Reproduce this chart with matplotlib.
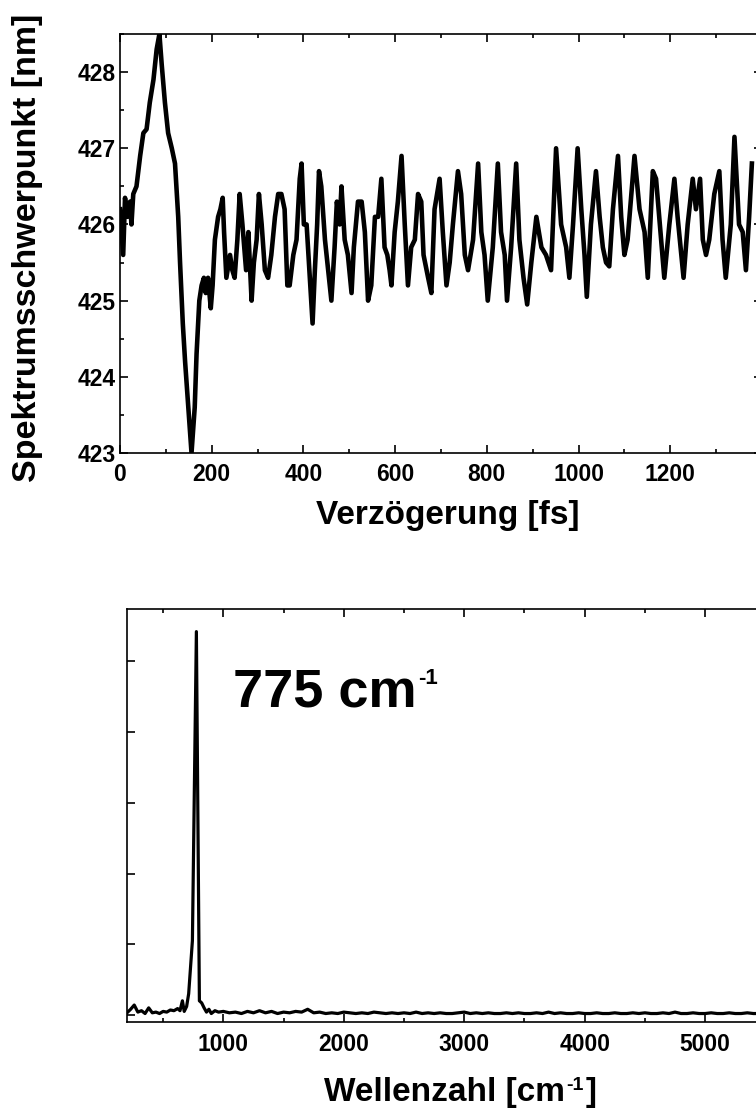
import numpy as np
import matplotlib
matplotlib.use("Agg")
import matplotlib.pyplot as plt
from matplotlib.ticker import MultipleLocator, NullFormatter

# --- top panel: spectral centroid vs. delay ---
delay_fs = [
    0, 7, 11, 16, 22, 25, 29, 36, 44, 51, 58, 65, 73, 80, 86, 91, 98, 105,
    113, 120, 127, 131, 137, 142, 149, 156, 163, 167, 173, 178, 183, 187,
    192, 198, 202, 207, 214, 219, 224, 227, 232, 240, 245, 250, 256, 261,
    267, 275, 280, 287, 292, 298, 303, 309, 316, 323, 330, 338, 345, 352,
    359, 365, 370, 378, 385, 392, 396, 401, 407, 414, 420, 425, 430, 434,
    439, 447, 454, 461, 468, 473, 479, 483, 490, 497, 505, 510, 519, 527,
    534, 541, 548, 556, 563, 570, 577, 583, 588, 592, 599, 606, 614, 621,
    628, 635, 643, 650, 657, 662, 672, 679, 686, 697, 704, 712, 719, 726,
    737, 744, 752, 759, 770, 781, 788, 795, 802, 813, 824, 831, 839, 844,
    853, 864, 871, 880, 888, 897, 908, 919, 929, 940, 951, 962, 973, 980,
    988, 998, 1006, 1013, 1018, 1027, 1038, 1046, 1053, 1060, 1067, 1075,
    1086, 1093, 1100, 1107, 1122, 1133, 1144, 1151, 1162, 1169, 1180, 1187,
    1198, 1209, 1216, 1229, 1238, 1249, 1256, 1265, 1271, 1278, 1285, 1296,
    1307, 1314, 1321, 1332, 1340, 1350, 1358, 1365, 1372, 1378,
]
centroid_nm = [
    426.2, 425.6, 426.35, 426.1, 426.3, 426.0, 426.4, 426.5, 426.9, 427.2,
    427.25, 427.6, 427.9, 428.3, 428.5, 428.1, 427.6, 427.2, 427.0, 426.8,
    426.1, 425.5, 424.7, 424.2, 423.6, 423.0, 423.6, 424.3, 425.0, 425.2,
    425.3, 425.1, 425.3, 424.9, 425.2, 425.8, 426.1, 426.2, 426.35, 425.9,
    425.3, 425.6, 425.4, 425.3, 425.8, 426.4, 426.0, 425.4, 425.9, 425.0,
    425.5, 425.8, 426.4, 426.0, 425.4, 425.3, 425.6, 426.1, 426.4, 426.4,
    426.2, 425.2, 425.2, 425.6, 425.8, 426.6, 426.8, 426.0, 426.0, 425.3,
    424.7, 425.4, 426.0, 426.7, 426.5, 425.8, 425.4, 425.0, 425.7, 426.3,
    426.0, 426.5, 425.8, 425.6, 425.1, 425.7, 426.3, 426.3, 425.9, 425.0,
    425.2, 426.1, 426.1, 426.6, 425.7, 425.6, 425.4, 425.2, 425.9, 426.3,
    426.9, 426.0, 425.2, 425.7, 425.8, 426.4, 426.3, 425.6, 425.3, 425.1,
    426.2, 426.6, 425.9, 425.2, 425.5, 426.0, 426.7, 426.4, 425.6, 425.4,
    425.8, 426.8, 425.9, 425.6, 425.0, 425.7, 426.8, 425.9, 425.6, 425.0,
    425.7, 426.8, 425.8, 425.3, 424.95, 425.5, 426.1, 425.7, 425.6, 425.4,
    427.0, 426.0, 425.7, 425.3, 426.0, 427.0, 426.2, 425.6, 425.05, 426.0,
    426.7, 426.1, 425.7, 425.5, 425.45, 426.2, 426.9, 426.1, 425.6, 425.8,
    426.9, 426.2, 425.9, 425.3, 426.7, 426.6, 425.8, 425.3, 426.0, 426.6,
    426.1, 425.3, 426.0, 426.6, 426.2, 426.6, 425.8, 425.6, 425.8, 426.4,
    426.7, 425.8, 425.3, 426.0, 427.15, 426.0, 425.9, 425.4, 426.1, 426.8,
]
delay_ticks = [0, 200, 400, 600, 800, 1000, 1200]

# --- bottom panel: FFT amplitude (arb. units, one unit per y tick) ---
wavenumber = [
    200, 230, 260, 290, 320, 350, 380, 410, 440, 470, 500, 530, 560, 590,
    620, 640, 660, 675, 695, 712, 743, 776, 801, 820, 840, 860, 880, 900,
    930, 960, 1000, 1050, 1100, 1150, 1200, 1250, 1300, 1350, 1400, 1450,
    1500, 1550, 1600, 1650, 1700, 1750, 1800, 1850, 1900, 1950, 2000, 2050,
    2100, 2150, 2200, 2250, 2300, 2350, 2400, 2450, 2500, 2550, 2600, 2650,
    2700, 2750, 2800, 2850, 2900, 2950, 3000, 3050, 3100, 3150, 3200, 3250,
    3300, 3350, 3400, 3450, 3500, 3550, 3600, 3650, 3700, 3750, 3800, 3850,
    3900, 3950, 4000, 4050, 4100, 4150, 4200, 4250, 4300, 4350, 4400, 4450,
    4500, 4550, 4600, 4650, 4700, 4750, 4800, 4850, 4900, 4950, 5000, 5050,
    5100, 5150, 5200, 5250, 5300, 5350, 5400, 5450, 5500, 5550, 5600, 5650,
    5700, 5750, 5800, 5850, 5900, 5950, 6000,
]
amplitude = [
    0.03, 0.08, 0.14, 0.04, 0.06, 0.02, 0.10, 0.03, 0.04, 0.02, 0.05, 0.04,
    0.07, 0.06, 0.09, 0.06, 0.20, 0.05, 0.12, 0.30, 1.05, 5.42, 0.20, 0.17,
    0.10, 0.04, 0.08, 0.02, 0.06, 0.04, 0.05, 0.03, 0.04, 0.02, 0.05, 0.03,
    0.06, 0.03, 0.05, 0.02, 0.04, 0.03, 0.05, 0.04, 0.08, 0.03, 0.04, 0.02,
    0.03, 0.02, 0.04, 0.03, 0.02, 0.03, 0.02, 0.04, 0.03, 0.02, 0.03, 0.02,
    0.03, 0.02, 0.04, 0.02, 0.03, 0.02, 0.03, 0.02, 0.02, 0.03, 0.04, 0.02,
    0.03, 0.02, 0.03, 0.02, 0.02, 0.03, 0.02, 0.03, 0.02, 0.02, 0.03, 0.02,
    0.04, 0.02, 0.03, 0.02, 0.02, 0.03, 0.02, 0.02, 0.03, 0.02, 0.02, 0.03,
    0.02, 0.02, 0.03, 0.02, 0.03, 0.02, 0.02, 0.03, 0.02, 0.04, 0.02, 0.02,
    0.03, 0.02, 0.02, 0.03, 0.02, 0.02, 0.03, 0.02, 0.02, 0.03, 0.02, 0.02,
    0.03, 0.02, 0.02, 0.03, 0.02, 0.02, 0.03, 0.02, 0.02, 0.03, 0.02,
]
wn_ticks = [1000, 2000, 3000, 4000, 5000]

plt.rcParams["font.family"] = ["Liberation Sans", "DejaVu Sans"]
plt.rcParams["font.weight"] = "bold"
plt.rcParams["axes.labelweight"] = "bold"
plt.rcParams["axes.linewidth"] = 1.2
for ax_name in ("xtick", "ytick"):
    plt.rcParams[f"{ax_name}.direction"] = "in"
    plt.rcParams[f"{ax_name}.major.size"] = 5.5
    plt.rcParams[f"{ax_name}.minor.size"] = 3.0
    plt.rcParams[f"{ax_name}.major.width"] = 1.2
    plt.rcParams[f"{ax_name}.minor.width"] = 1.2
plt.rcParams["xtick.top"] = True
plt.rcParams["ytick.right"] = True

fig = plt.figure(figsize=(7.56, 11.15), dpi=100)

# top panel
ax1 = fig.add_axes([0.1587, 0.5937, 0.8492, 0.3758])
ax1.plot(delay_fs, centroid_nm, color="black", lw=3.3)
ax1.set_xlim(0, 1400)
ax1.set_ylim(423, 428.5)
ax1.set_xticks(delay_ticks)
ax1.xaxis.set_minor_locator(MultipleLocator(100))
ax1.yaxis.set_major_locator(MultipleLocator(1))
ax1.yaxis.set_minor_locator(MultipleLocator(0.5))
ax1.tick_params(axis="x", which="both", labelsize=16.5, pad=7)
ax1.tick_params(axis="y", which="both", labelsize=16.5, pad=3)
ax1.set_xlabel("Verzögerung [fs]", fontsize=24, va="top")
ax1.xaxis.set_label_coords(0.511, -0.112)
ax1.set_ylabel("Spektrumsschwerpunkt [nm]", fontsize=24.5)
ax1.yaxis.set_label_coords(-0.12, 0.49)

# bottom panel
ax2 = fig.add_axes([0.168, 0.0834, 0.924, 0.3704])
ax2.plot(wavenumber, amplitude, color="black", lw=2.3)
ax2.set_xlim(200, 6000)
ax2.set_ylim(-0.1, 5.74)
ax2.set_xticks(wn_ticks)
ax2.xaxis.set_minor_locator(MultipleLocator(500))
ax2.yaxis.set_major_locator(MultipleLocator(1))
ax2.yaxis.set_major_formatter(NullFormatter())
ax2.tick_params(axis="x", which="both", labelsize=16.5, pad=8)

# x label with a small superscript, built from three pieces
lab = ax2.text(0.282, -0.133, "Wellenzahl [cm", transform=ax2.transAxes,
               fontsize=24, fontweight="bold", ha="left", va="top")
sup = ax2.annotate("-1", xy=(1, 1), xycoords=lab, xytext=(1, 0),
                   textcoords="offset points", fontsize=14,
                   fontweight="bold", ha="left", va="top")
ax2.annotate("]", xy=(1, 0), xycoords=(sup, lab), xytext=(1, 0),
             textcoords="offset points", fontsize=24, fontweight="bold",
             ha="left", va="bottom")

peak_txt = ax2.text(1083, 4.91, "775 cm", fontsize=39, fontweight="bold",
                    ha="left", va="top")
ax2.annotate("-1", xy=(1, 1), xycoords=peak_txt, xytext=(1, 0),
             textcoords="offset points", fontsize=16, fontweight="bold",
             ha="left", va="top")

fig.savefig("out.png", dpi=100)
